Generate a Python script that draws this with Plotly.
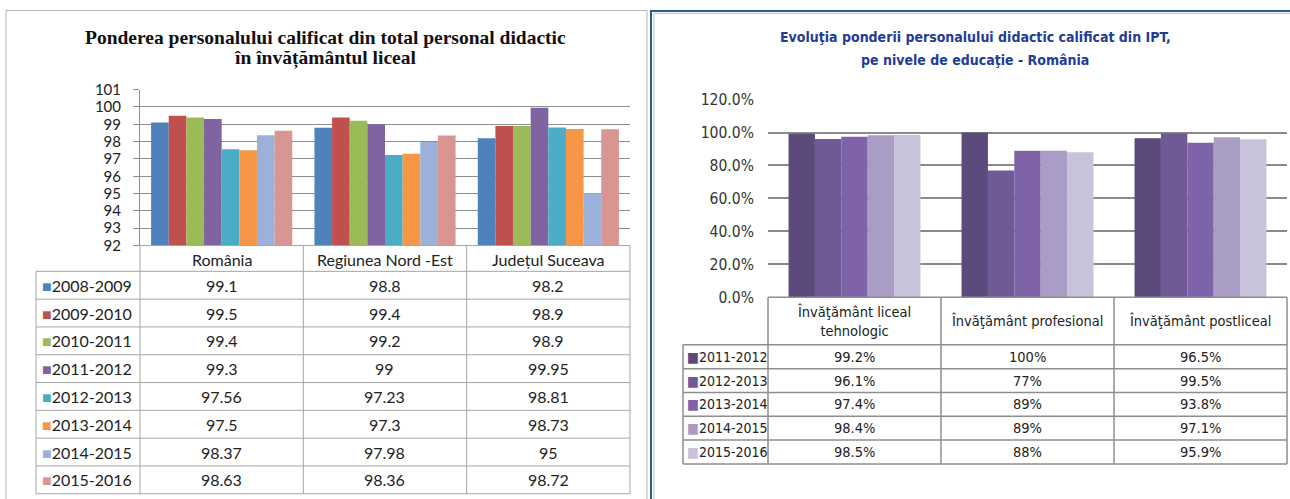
import plotly.graph_objects as go

W, H = 1290, 499
# the photographed page gets an 8px band above and below and is then fitted back to 499px;
# reference pixel rows are mapped through that so the figure lands where the reference has it
PAD = 8
VS = H / (H + 2 * PAD)

# ---------------- data ----------------
left_title_1 = "Ponderea personalului calificat din total personal didactic"
left_title_2 = "în învățământul liceal"
left_categories = ["România", "Regiunea Nord -Est", "Județul Suceava"]
left_years = ["2008-2009", "2009-2010", "2010-2011", "2011-2012",
              "2012-2013", "2013-2014", "2014-2015", "2015-2016"]
left_values = [
    [99.1, 98.8, 98.2],
    [99.5, 99.4, 98.9],
    [99.4, 99.2, 98.9],
    [99.3, 99.0, 99.95],
    [97.56, 97.23, 98.81],
    [97.5, 97.3, 98.73],
    [98.37, 97.98, 95.0],
    [98.63, 98.36, 98.72],
]
left_colors = ["#4F81BD", "#C0504D", "#9BBB59", "#8064A2",
               "#4BACC6", "#F79646", "#9BB1D9", "#D99592"]
left_ticks = [92, 93, 94, 95, 96, 97, 98, 99, 100, 101]

right_title_1 = "Evoluţia ponderii personalului didactic calificat din IPT,"
right_title_2 = "pe nivele de educaţie - România"
right_categories = ["Învăţământ liceal<br>tehnologic", "Învăţământ profesional", "Învăţământ postliceal"]
right_years = ["2011-2012", "2012-2013", "2013-2014", "2014-2015", "2015-2016"]
right_values = [
    [99.2, 100, 96.5],
    [96.1, 77, 99.5],
    [97.4, 89, 93.8],
    [98.4, 89, 97.1],
    [98.5, 88, 95.9],
]
right_colors = ["#5C4A7D", "#6F5A95", "#7E63A8", "#A99CC5", "#C8C2DB"]
right_ticks = [0, 20, 40, 60, 80, 100, 120]


def X(px):
    return px / W


def Y(py):
    page_y = py / VS - PAD
    return 1 - page_y / H


SERIF = "Liberation Serif, DejaVu Serif, serif"
CAL = "Lato, Open Sans, sans-serif"
NARROW = "Liberation Sans Narrow, DejaVu Sans Condensed, Liberation Sans, sans-serif"

fig = go.Figure()

# ---------------- left bars ----------------
nL = len(left_years)
wL = 0.108
for i, yr in enumerate(left_years):
    fig.add_trace(go.Bar(
        x=left_categories, y=left_values[i], name=yr,
        marker=dict(color=left_colors[i], line=dict(width=0)),
        width=wL, offset=-wL * nL / 2 + i * wL,
        xaxis="x", yaxis="y", showlegend=False,
    ))

# ---------------- right bars ----------------
nR = len(right_years)
wR = 0.1525
for i, yr in enumerate(right_years):
    fig.add_trace(go.Bar(
        x=right_categories, y=right_values[i], name=yr,
        marker=dict(color=right_colors[i], line=dict(width=0)),
        width=wR, offset=-wR * nR / 2 + i * wR,
        xaxis="x2", yaxis="y2", showlegend=False,
    ))

# geometry (pixels, reference image coordinates)
L_x0, L_x1, L_ytop, L_ybot = 140, 630, 88, 245
L_tab_left, L_row0, L_rowh = 36, 271, 28
R_x0, R_x1, R_ytop, R_ybot = 768, 1287, 98, 297
R_tab_left, R_row0, R_rowh = 683, 345, 24

fig.update_layout(
    width=W, height=H,
    margin=dict(l=0, r=0, t=0, b=0),
    paper_bgcolor="white", plot_bgcolor="white",
    barmode="overlay",
    xaxis=dict(domain=[X(L_x0), X(L_x1)], showticklabels=False, showgrid=False,
               zeroline=False, showline=False, fixedrange=True),
    yaxis=dict(domain=[Y(L_ybot), Y(L_ytop)], range=[92, 101], tickvals=left_ticks,
               showgrid=True, gridcolor="#8E8E8E", gridwidth=1, zeroline=False,
               showline=True, linecolor="#8E8E8E", linewidth=1,
               ticks="outside", ticklen=6, tickcolor="#8E8E8E", ticklabelstandoff=9,
               tickfont=dict(family=CAL, size=15, color="#222")),
    xaxis2=dict(domain=[X(R_x0), X(R_x1)], showticklabels=False, showgrid=False,
                zeroline=False, showline=False, anchor="y2"),
    yaxis2=dict(domain=[Y(R_ybot), Y(R_ytop)], range=[0, 120], tickvals=right_ticks,
                ticktext=[f"{v:.1f}%" for v in right_ticks], anchor="x2",
                showgrid=True, gridcolor="#8A8A8A", gridwidth=1.5, zeroline=False,
                showline=False, ticks="outside", ticklen=8, tickcolor="rgba(0,0,0,0)",
                ticklabelstandoff=2,
                tickfont=dict(family=NARROW, size=15.5, color="#333")),
)

shapes = []
ann = []


def line(x0, y0, x1, y1, color, width=1):
    shapes.append(dict(type="line", xref="paper", yref="paper",
                       x0=X(x0), y0=Y(y0), x1=X(x1), y1=Y(y1),
                       line=dict(color=color, width=width)))


def text(x, y, t, font, xanchor="center", yanchor="middle"):
    ann.append(dict(xref="paper", yref="paper", x=X(x), y=Y(y), text=t,
                    showarrow=False, xanchor=xanchor, yanchor=yanchor, font=font))


# panel borders
shapes.append(dict(type="rect", xref="paper", yref="paper", x0=X(6), y0=-0.05, x1=X(647), y1=0.999,
                   line=dict(color="#B4B4B4", width=1)))
shapes.append(dict(type="rect", xref="paper", yref="paper", x0=X(651), y0=-0.05, x1=X(1296), y1=0.998,
                   line=dict(color="#2E5A8A", width=2)))
shapes.append(dict(type="rect", xref="paper", yref="paper", x0=X(654), y0=-0.05, x1=X(1296), y1=0.993,
                   line=dict(color="#A9C4E4", width=1)))

# ---------------- left table ----------------
TL = "#A6A6A6"
colwL = (L_x1 - L_x0) / len(left_categories)
for j in range(len(left_categories) + 1):
    line(L_x0 + j * colwL, L_ybot, L_x0 + j * colwL, L_row0 + nL * L_rowh, TL)
line(L_tab_left, L_row0, L_tab_left, L_row0 + nL * L_rowh, TL)
line(L_x0, L_ybot, L_x1, L_ybot, TL)
for k in range(nL + 1):
    line(L_tab_left, L_row0 + k * L_rowh, L_x1, L_row0 + k * L_rowh, TL)

fL = dict(family=CAL, size=16, color="#222")
for j, c in enumerate(left_categories):
    text(L_x0 + (j + 0.5) * colwL, (L_ybot + L_row0) / 2 + 1, c, fL)
for i, yr in enumerate(left_years):
    yc = L_row0 + (i + 0.5) * L_rowh
    text(L_tab_left + 4, yc,
         f"<span style='color:{left_colors[i]}'>■</span>{yr}", fL, xanchor="left")
    for j in range(len(left_categories)):
        text(L_x0 + (j + 0.5) * colwL, yc, f"{left_values[i][j]:g}", fL)

fTL = dict(family=SERIF, size=19.5, color="#111")
text(325, 35, "<b>" + left_title_1 + "</b>", fTL)
text(325, 56, "<b>" + left_title_2 + "</b>", fTL)

# ---------------- right table ----------------
TR = "#8E8E8E"
colwR = (R_x1 - R_x0) / len(right_categories)
for j in range(len(right_categories) + 1):
    line(R_x0 + j * colwR, R_ybot, R_x0 + j * colwR, R_row0 + nR * R_rowh, TR, 1.5)
line(R_tab_left, R_row0, R_tab_left, R_row0 + nR * R_rowh, TR, 1.5)
line(R_x0, R_ybot, R_x1, R_ybot, TR, 1.5)
for k in range(nR + 1):
    line(R_tab_left, R_row0 + k * R_rowh, R_x1, R_row0 + k * R_rowh, TR, 1.5)

fR = dict(family=NARROW, size=14.5, color="#222")
fRl = dict(family=NARROW, size=14, color="#222")
for j, c in enumerate(right_categories):
    text(R_x0 + (j + 0.5) * colwR, (R_ybot + R_row0) / 2, c, fR)
for i, yr in enumerate(right_years):
    yc = R_row0 + (i + 0.5) * R_rowh
    text(R_tab_left + 2, yc,
         f"<span style='color:{right_colors[i]}'>■</span>{yr}", fRl, xanchor="left")
    for j in range(len(right_categories)):
        text(R_x0 + (j + 0.5) * colwR, yc, f"{right_values[i][j]:g}%", fR)

fT = dict(family=NARROW, size=14, color="#1F3C96")
text(975, 35, "<b>" + right_title_1 + "</b>", fT)
text(975, 58, "<b>" + right_title_2 + "</b>", fT)

fig.update_layout(shapes=shapes, annotations=ann)

# pin the figure to the top-left corner of the window so the page adds no margins
pin_js = (
    "var st=document.createElement('style');"
    "st.textContent='html,body{margin:0;padding:0;overflow:hidden;width:1290px;height:499px;}';"
    "document.head.appendChild(st);"
    "var gd=document.getElementById('{plot_id}');"
    "gd.style.position='fixed';gd.style.top='0px';gd.style.left='0px';"
)
fig.write_html("out.html", config={"displayModeBar": False}, post_script=pin_js)
